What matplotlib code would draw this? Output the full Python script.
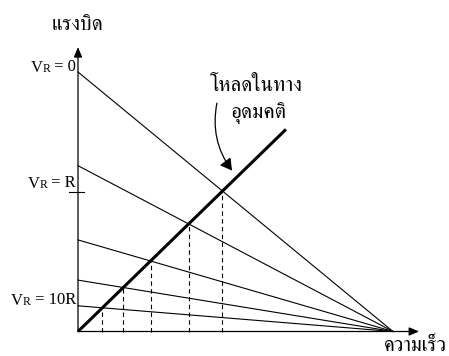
import numpy as np
import matplotlib
matplotlib.use("Agg")
import matplotlib.pyplot as plt
from matplotlib.patches import FancyArrowPatch

# ข้อมูลกราฟ (ค่าปรับให้เป็นหน่วยสัมพัทธ์)
no_load_speed = 1.0
stall_torque = [1.0, 0.639, 0.353, 0.198, 0.099]  # จุดตัดแกนแรงบิด
load_slope = 1.18        # โหลดในทางอุดมคติ: T = k * w
load_end_speed = 0.66

vr_values = ["0", "R", "10R"]
vr_label_y = [1.005, 0.558, 0.106]
r_tick_y = 0.537

thai_font = ['FreeSerif', 'DejaVu Sans']
latin_font = ['Liberation Serif', 'DejaVu Serif']

fig = plt.figure(figsize=(4.49, 3.56), dpi=100)
ax = fig.add_axes([78 / 449, 24.5 / 356, 315 / 449, 259.5 / 356])
ax.set_xlim(0, 1)
ax.set_ylim(0, 1)
ax.axis('off')

# แกน
head = '-|>,head_length=0.6,head_width=0.25'
ax.annotate('', xy=(0, 1.096), xytext=(0, 0), annotation_clip=False,
            arrowprops=dict(arrowstyle=head, color='black', lw=0.9, shrinkA=0, shrinkB=0))
ax.annotate('', xy=(1.083, 0), xytext=(0, 0), annotation_clip=False,
            arrowprops=dict(arrowstyle=head, color='black', lw=0.9, shrinkA=0, shrinkB=0))

# เส้นแรงบิด-ความเร็ว และเส้นประลงแกนความเร็ว
for t0 in stall_torque:
    ax.plot([0, no_load_speed], [t0, 0], color='black', lw=0.8, clip_on=False)
    w = t0 * no_load_speed / (t0 + load_slope * no_load_speed)
    ax.plot([w, w], [0, load_slope * w], color='black', lw=0.8, ls=(0, (4, 3)), clip_on=False)

# เส้นโหลด
ws = np.array([0, load_end_speed])
ax.plot(ws, load_slope * ws, color='black', lw=2.2, solid_capstyle='butt', clip_on=False)

# ขีดที่ V_R = R
ax.plot([-0.029, 0.019], [r_tick_y, r_tick_y], color='black', lw=0.8, clip_on=False)

# ป้าย V_R (R ตัวเล็กบนเส้นฐาน)
for val, y in zip(vr_values, vr_label_y):
    t = ax.text(-0.006, y, ' = ' + val, ha='right', va='baseline', fontsize=12, family=latin_font)
    r = ax.annotate('R', xy=(0, 0), xycoords=t, ha='right', va='bottom', fontsize=8.5, family=latin_font)
    ax.annotate('V', xy=(0, 0), xycoords=r, ha='right', va='bottom', fontsize=12, family=latin_font,
                xytext=(0, -0.8), textcoords='offset points')

ax.text(-0.003, 1.162, 'แรงบิด', ha='center', va='baseline', fontsize=15, family=thai_font)
ax.text(1.072, -0.074, 'ความเร็ว', ha='center', va='baseline', fontsize=14.5, family=thai_font)
ax.text(0.567, 0.927, 'โหลดในทาง', ha='center', va='baseline', fontsize=15, family=thai_font)
ax.text(0.573, 0.819, 'อุดมคติ', ha='center', va='baseline', fontsize=15, family=thai_font)

arr = FancyArrowPatch((0.441, 0.88), (0.489, 0.62), connectionstyle='arc3,rad=0.22',
                      arrowstyle='-|>,head_length=7,head_width=4', color='black', lw=0.9,
                      shrinkA=0, shrinkB=0, clip_on=False)
ax.add_patch(arr)

fig.savefig('out.png', dpi=100)
